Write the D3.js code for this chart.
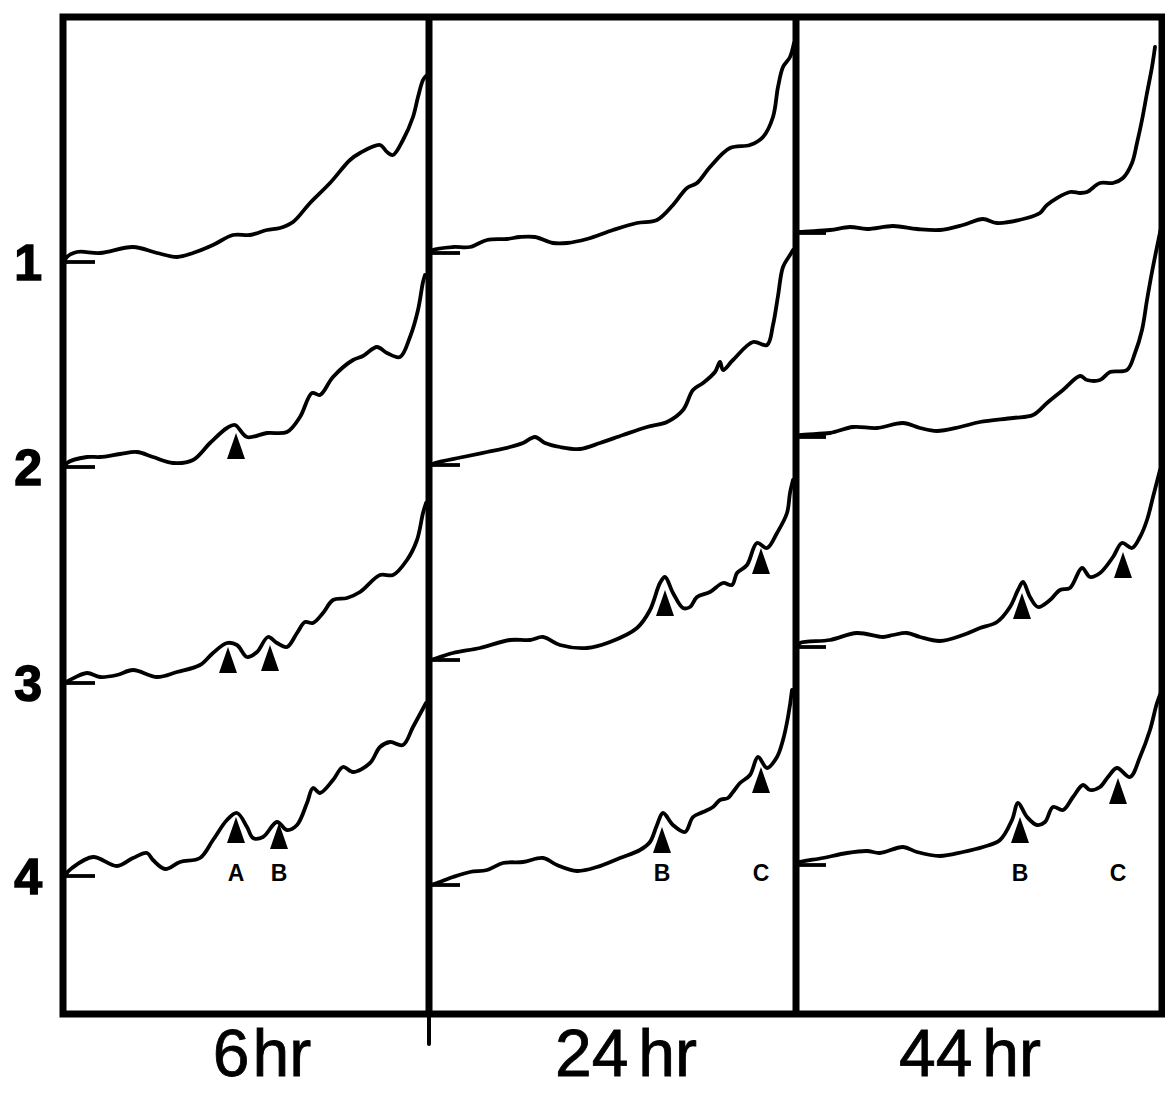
<!DOCTYPE html>
<html><head><meta charset="utf-8">
<script src="https://cdn.jsdelivr.net/npm/d3@7"></script>
<style>body{margin:0;background:#fff}svg{display:block}</style>
</head><body><svg id="c" width="1165" height="1094"></svg>
<script>
// ---- data (x: migration units 0..91, y: density above trace baseline) ----
const panelLabels = ["6hr", "24hr", "44hr"];
const rowLabels = ["1", "2", "3", "4"];
// baseline level of each trace (density units), per panel, rows 1..4
const baselines = [
  [188.5, 137.25, 83.25, 35],
  [190.75, 137.75, 89, 32.75],
  [195.75, 144.75, 92.25, 37.75]
];
const t6_1 = [[0,0],[0.25,1],[3,2.5],[8.75,2.25],[17,3.75],[23,2.25],[28,1.25],[32,2.25],[37,4.25],[42,6.75],[46.25,6.75],[50.5,8],[53.75,8.5],[57,10],[61.25,14.75],[66.25,19.75],[71.25,25.5],[73.75,27.25],[78.75,29.25],[80.5,27.5],[82,26.75],[84.5,30.5],[87,36.25],[88.25,41.25],[89.5,45.5],[90.25,46.5]];
const t6_2 = [[0,0],[0.5,1],[5.5,2.5],[8.75,2.5],[13.75,3.25],[18,3.75],[22,2.5],[27,1],[32,1.75],[36.25,6],[40.5,9.75],[42.5,10.5],[45.5,7.5],[50.5,8.5],[55.5,8.75],[58.75,12.5],[61.75,18.5],[63.75,18],[67,22.5],[72,26.75],[74.5,27.75],[78,30],[80.5,28.5],[83.75,27.5],[86.25,32.5],[88.25,39.25],[89.5,46.25],[90,48]];
const t6_3 = [[0,0],[1.25,0.75],[5.5,2.5],[8.75,1.5],[13,2],[17,3.25],[23,1.5],[28,2.75],[33.75,4.5],[37,7.5],[40.5,10],[43,9.5],[45.5,6.5],[48,7.75],[50.75,11.5],[53,10],[55.5,9],[58,12.5],[60,15.25],[62,15],[64.5,17.5],[67,20.75],[70.5,21.25],[73.75,22.75],[78.75,27],[82,27],[85.5,30.75],[88,35.75],[89.5,42.5],[90.25,45]];
const t6_4 = [[0,0],[0.25,0.5],[1.75,2],[7,4.75],[13,2.5],[17,4.5],[20.5,5.75],[22,4],[25,1.75],[28.75,3.5],[33.75,4.5],[37,9],[40.5,14],[43,15.75],[45.5,12.25],[47,9.5],[49.5,9.75],[53,13.5],[55.5,11.5],[58,12.75],[60.5,18.25],[62,22],[63.75,20.75],[67,24],[69.5,27.25],[72,26],[76.25,28.25],[78.75,32.25],[81.25,33.5],[84.5,32.75],[87,37.25],[90.25,43.25]];
const t24_1 = [[0,0],[0.75,0.75],[5.75,1.5],[10,1.5],[14.25,3.25],[19.25,3.5],[22.5,4],[26.25,4],[30.75,2.5],[34.25,2.5],[39.25,3.5],[45.75,5.75],[51.75,7.5],[56.75,8.25],[60.75,12],[64.25,16.25],[66.75,17.5],[70,21.5],[75,26.25],[80,27],[83.25,29],[85.75,34],[87,41.5],[88.25,46.5],[90,49],[91,52.5]];
const t24_2 = [[0,0],[1.25,0.5],[8.25,2],[14.25,3.25],[20,4.5],[23.25,5.5],[26.25,7],[28.75,5.5],[32.5,4.5],[37.5,4],[42.5,5.5],[48.25,7.5],[54.25,9.5],[59.25,10.75],[63.25,13.75],[65.75,18.75],[68.25,20.5],[71.25,23.25],[72.5,25.75],[73.25,23.75],[75.75,26.25],[80.75,30.75],[84.25,30],[85.75,35],[87,42.25],[88.25,49.5],[90,52.5],[90.75,53.75]];
const t24_3 = [[0,0],[1.75,0.5],[5.75,1.75],[12.5,3],[20,5],[25,5],[28.25,5.75],[32.5,3.75],[39.25,3],[45,4.5],[51.75,8],[55,12.5],[57.5,19.25],[58.75,20.75],[60.75,16.75],[63.25,13],[65,13.25],[66.75,15.75],[70,17],[73.25,19.25],[75.5,18.75],[76.75,21.75],[79.25,23.75],[81.75,29.25],[84.25,28],[86.75,31.75],[89.25,36.75],[90,41.75],[90.75,45]];
const t24_4 = [[0,0],[1.75,0.5],[5.75,2],[10,3.25],[14.25,3.75],[18.25,5.5],[23.25,5.75],[28.25,6.75],[31.75,5],[36.75,3.5],[41.75,4.5],[47.5,6.75],[52.5,8.75],[55,10.75],[56.75,15],[58.25,18],[60.75,15],[63.75,13.25],[65.75,17],[68.25,18.25],[70.75,19.5],[72.5,21.25],[74.5,21.75],[75.75,23.25],[77.5,25.5],[80,27.5],[82,32],[84.25,29.25],[86.75,32],[88.25,36.25],[89.5,42],[90.5,48.75]];
const t44_1 = [[0,0],[1,0.25],[8.5,0.75],[13.5,1.5],[17.75,1],[24.25,1.75],[30.25,1],[36,0.75],[41.75,2],[46.75,3.5],[50.25,2.5],[57.75,3.75],[61,5],[62.75,7],[68.5,10.25],[71,10],[72.75,10.25],[76,12.5],[79.25,12.5],[81.75,13.75],[84,17.5],[85.25,22.5],[86.5,28.25],[87.75,35],[89,41.5],[89.75,46.5]];
const t44_2 = [[0,0],[1,0.5],[8.5,1],[14.25,2.5],[20.25,2.25],[26.75,3.5],[31,2.25],[35.25,1.5],[41,2.5],[46,3.75],[54.25,4.75],[59.25,5.5],[62.75,8.5],[66.75,11.75],[71,15.25],[72.75,14.25],[76,14.25],[78.5,16.25],[82.75,16.75],[84.75,21],[86.5,26.75],[87.75,34.25],[89,41.25],[90.25,47.5],[91.25,52.25]];
const t44_3 = [[0,0],[1,1],[8.5,1.75],[15.25,3.5],[21.75,2.5],[24.25,3],[27.75,3.5],[31,2.5],[36,1.5],[41.75,3],[46,4.75],[50.25,6.25],[53.5,10],[55.5,14.25],[56.75,16.25],[58.5,12.5],[60.5,10],[63.5,11.75],[66,14.25],[68.5,14.75],[71.5,19.75],[73.5,17.5],[76,18.5],[79.25,22.5],[81.5,26],[84,24.75],[86,27.5],[87.75,31.75],[89.25,37.5],[91,44.25]];
const t44_4 = [[0,0],[0.25,0.5],[6.75,1.75],[12.75,3],[17.75,3.5],[21,3],[26.75,4.5],[30.25,3.25],[36,2.25],[41.75,3.25],[46.75,4.5],[51,6.25],[54,11.25],[55.5,15.5],[57.75,12],[60.25,10],[62.25,10.75],[64.25,14.5],[66.75,13.75],[69.25,17],[71.75,20],[73.5,18.75],[76,19.5],[78,22],[80.25,24.25],[83.5,22],[86,27],[88.5,33.75],[90.25,40.5],[91.5,43.75]];
const traces = [[t6_1, t6_2, t6_3, t6_4], [t24_1, t24_2, t24_3, t24_4], [t44_1, t44_2, t44_3, t44_4]];
// peak markers: panel, row, x, tip level above baseline, letter
const peakPanel = [0, 0, 0, 0, 0, 1, 1, 1, 1, 2, 2, 2, 2];
const peakRow   = [1, 2, 2, 3, 3, 2, 2, 3, 3, 2, 2, 3, 3];
const peakX     = [42.75, 40.75, 51.25, 42.75, 53.5, 58.75, 82.75, 58, 82.75, 56.5, 81.75, 56, 80.5];
const peakTip   = [8.5, 9, 9.5, 14.75, 13.25, 17.5, 28, 14.5, 29.5, 13.5, 23.75, 12, 21.75];
const peakName  = ["", "", "", "A", "B", "", "", "B", "C", "", "", "B", "C"];
const peakLetterLevel = 35.75;
const panelLabelX = [262, 626, 970];

// ---- layout ----
const svg = d3.select("#c");
const frame = {left: 63, right: 1162, top: 17, bottom: 1014};
const dividers = [429, 796];
const panelLeft = [65, 430, 796];
const panelW = 364;
const font = "Liberation Sans, Arial, Helvetica, sans-serif";
const y = d3.scaleLinear().domain([0, 250]).range([1016, 16]);
const xs = panelLeft.map(l => d3.scaleLinear().domain([0, 91]).range([l, l + panelW]));

// traces
traces.forEach((rowsT, p) => {
  const g = svg.append("g");
  rowsT.forEach((pts, r) => {
    const b = baselines[p][r];
    const line = d3.line().x(d => xs[p](d[0])).y(d => y(b + d[1])).curve(d3.curveCatmullRom.alpha(0.5));
    g.append("path").attr("d", line(pts)).attr("fill", "none").attr("stroke", "#000")
      .attr("stroke-width", 3.8).attr("stroke-linejoin", "round").attr("stroke-linecap", "round");
    // baseline tick
    g.append("line").attr("x1", xs[p](0)).attr("x2", xs[p](7.5))
      .attr("y1", y(b)).attr("y2", y(b)).attr("stroke", "#000").attr("stroke-width", 3.8);
  });
});

// peak arrowheads
peakX.forEach((px, i) => {
  const p = peakPanel[i], r = peakRow[i];
  const cx = xs[p](px), ty = y(baselines[p][r] + peakTip[i]);
  svg.append("path").attr("d", `M${cx},${ty} L${cx - 9},${ty + 26} L${cx + 9},${ty + 26} Z`).attr("fill", "#000");
  if (peakName[i]) {
    svg.append("text").attr("x", cx).attr("y", y(peakLetterLevel)).attr("dy", "0.36em")
      .attr("text-anchor", "middle").attr("font-family", font)
      .attr("font-weight", "bold").attr("font-size", 23).text(peakName[i]);
  }
});

// frame
svg.append("rect").attr("x", frame.left).attr("y", frame.top)
  .attr("width", frame.right - frame.left).attr("height", frame.bottom - frame.top)
  .attr("fill", "none").attr("stroke", "#000").attr("stroke-width", 7);
dividers.forEach(dx => {
  svg.append("line").attr("x1", dx).attr("x2", dx).attr("y1", frame.top).attr("y2", frame.bottom)
    .attr("stroke", "#000").attr("stroke-width", 7);
});
svg.append("line").attr("x1", dividers[0]).attr("x2", dividers[0]).attr("y1", frame.bottom).attr("y2", 1044)
  .attr("stroke", "#000").attr("stroke-width", 4).attr("stroke-linecap", "round");

// row labels
rowLabels.forEach((t, r) => {
  svg.append("text").attr("x", 42).attr("y", y(baselines[0][r])).attr("dy", "0.36em")
    .attr("text-anchor", "end").attr("font-family", font)
    .attr("font-weight", "bold").attr("font-size", 50)
    .attr("stroke", "#000").attr("stroke-width", 1.5).text(t);
});

// panel labels (number, then "hr" with a small gap)
panelLabels.forEach((t, p) => {
  const num = t.replace("hr", "");
  const txt = svg.append("text").attr("x", panelLabelX[p]).attr("y", 1076)
    .attr("text-anchor", "middle").attr("font-family", font)
    .attr("font-size", 66).attr("stroke", "#000").attr("stroke-width", 0.8);
  txt.append("tspan").text(num);
  txt.append("tspan").attr("dx", num.length > 1 ? 10 : 3).text("hr");
});
</script>
</body></html>
